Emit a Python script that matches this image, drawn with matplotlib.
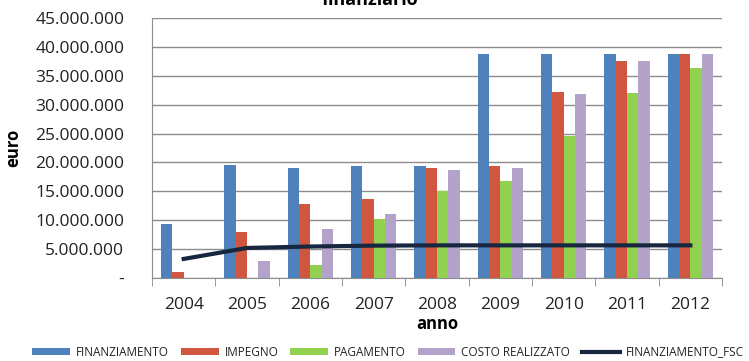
import numpy as np
import matplotlib.pyplot as plt
from matplotlib.ticker import FuncFormatter

plt.rcParams['font.family'] = ['Open Sans', 'DejaVu Sans']

anni = ['2004', '2005', '2006', '2007', '2008', '2009', '2010', '2011', '2012']

# valori in milioni di euro
finanziamento = [9.4, 19.5, 19.0, 19.4, 19.4, 38.8, 38.8, 38.8, 38.8]
impegno = [1.1, 8.0, 12.8, 13.6, 19.0, 19.4, 32.2, 37.6, 38.8]
pagamento = [0.0, 0.0, 2.3, 10.2, 15.0, 16.8, 24.6, 32.0, 36.4]
costo_realizzato = [0.0, 3.0, 8.4, 11.1, 18.7, 19.0, 31.9, 37.6, 38.8]
finanziamento_fsc = [3.3, 5.2, 5.45, 5.6, 5.65, 5.65, 5.65, 5.65, 5.65]

serie = [
    ('FINANZIAMENTO', finanziamento, '#4F81BD'),
    ('IMPEGNO', impegno, '#D0563F'),
    ('PAGAMENTO', pagamento, '#92D050'),
    ('COSTO REALIZZATO', costo_realizzato, '#B3A2C9'),
]

fig = plt.figure(figsize=(7.49, 3.61), dpi=100)
ax = fig.add_axes([152 / 749, 1 - 278 / 361, 570 / 749, 260 / 361])

x = np.arange(len(anni))
w = 0.179
for i, (nome, vals, col) in enumerate(serie):
    ax.bar(x + (i - 1.5) * w, np.array(vals) * 1e6, width=w, color=col,
           label=nome, zorder=3)

ax.plot(x, np.array(finanziamento_fsc) * 1e6, color='#17273F',
        lw=3, label='FINANZIAMENTO_FSC', zorder=4)

ax.set_xlim(-0.5, len(anni) - 0.5)
ax.set_ylim(0, 45e6)
ax.set_yticks(np.arange(0, 45e6 + 1, 5e6))
ax.yaxis.set_major_formatter(FuncFormatter(
    lambda v, p: '-' if v == 0 else f'{int(v):,}'.replace(',', '.')))
ax.set_xticks(x)
ax.set_xticklabels(anni)
ax.set_xticks(np.arange(-0.5, len(anni)), minor=True)
ax.tick_params(axis='x', which='major', length=0, pad=14, labelsize=12.5,
               colors='#222222')
ax.tick_params(axis='x', which='minor', length=6, color='#888888',
               direction='out')
ax.tick_params(axis='y', length=0, labelsize=12.5, pad=20, colors='#222222')

ax.grid(axis='y', color='#8C8C8C', lw=1, zorder=0)
for s in ['top', 'right']:
    ax.spines[s].set_visible(False)
ax.spines['left'].set_color('#8C8C8C')
ax.spines['bottom'].set_color('#8C8C8C')

ax.set_ylabel('euro', fontsize=12, fontweight='bold')
ax.yaxis.set_label_coords(-0.228, 0.5)
ax.set_xlabel('anno', fontsize=12, fontweight='bold', labelpad=1)

fig.text(370 / 749, 1.0, 'finanziario', fontsize=13, fontweight='bold',
         ha='center', va='center')

handles, labels = ax.get_legend_handles_labels()
order = [1, 2, 3, 4, 0]
leg = fig.legend([handles[i] for i in order], [labels[i] for i in order],
                 loc='center', bbox_to_anchor=(388 / 749, 1 - 352 / 361),
                 ncol=5, frameon=False, fontsize=8.5, handlelength=3.2,
                 handleheight=0.5, handletextpad=0.5, columnspacing=1.0,
                 borderaxespad=0, borderpad=0)
for t in leg.get_texts():
    t.set_color('#222222')

fig.savefig('out.png', dpi=100)
